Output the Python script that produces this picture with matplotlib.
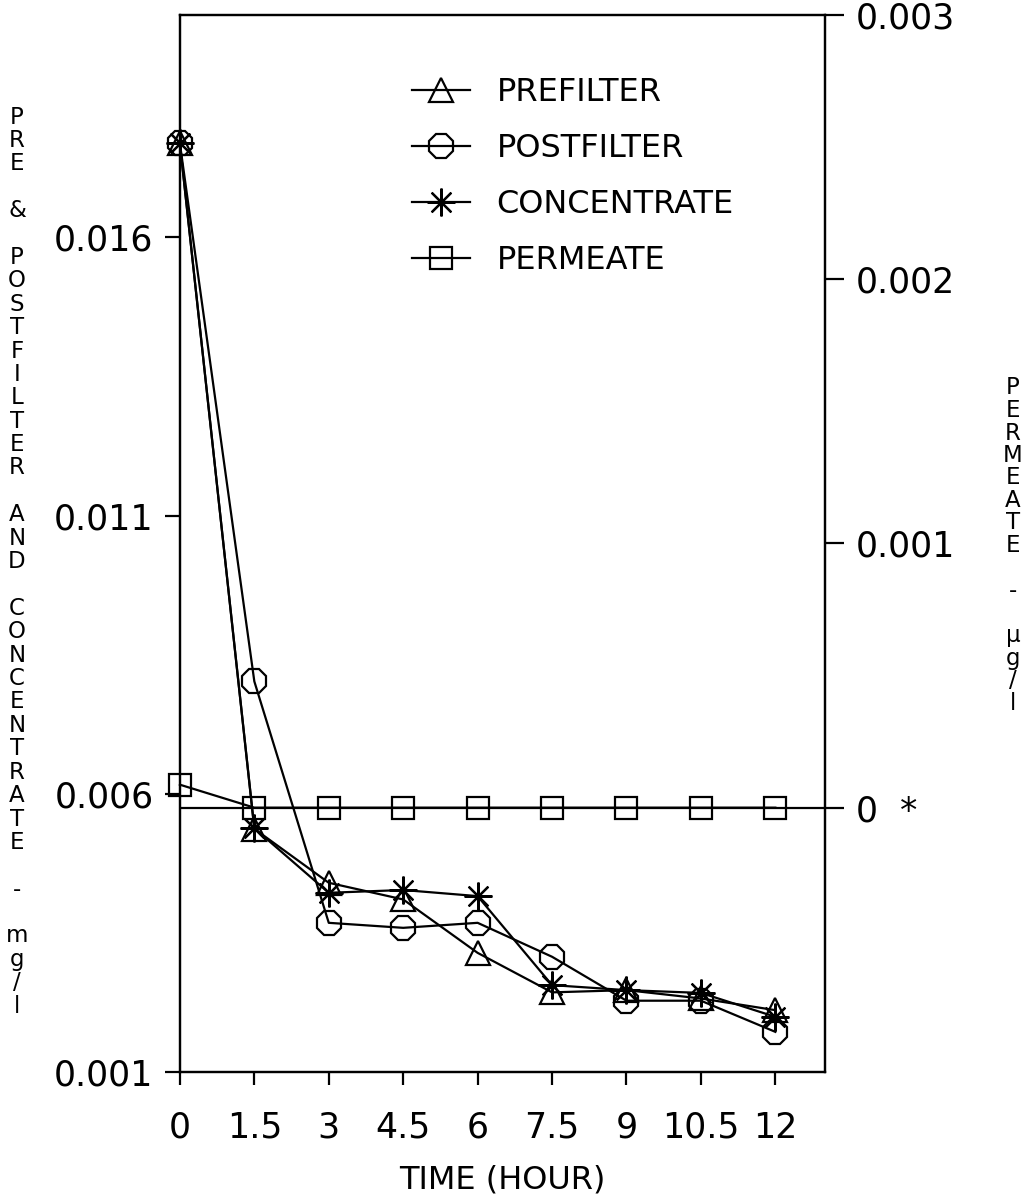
import matplotlib.pyplot as plt

# time in hours
hours = [0, 1.5, 3, 4.5, 6, 7.5, 9, 10.5, 12]
xtick_labels = ['0', '1.5', '3', '4.5', '6', '7.5', '9', '10.5', '12']

# mg/l (left axis)
prefilter = [0.01769, 0.00537, 0.00440, 0.00410, 0.00314, 0.00243, 0.00247, 0.00232, 0.00211]
postfilter = [0.01769, 0.00802, 0.00368, 0.00359, 0.00368, 0.00307, 0.00228, 0.00228, 0.00172]
concentrate = [0.01769, 0.00538, 0.00422, 0.00427, 0.00416, 0.00256, 0.00247, 0.00242, 0.00199]
# ug/l (right axis)
permeate = [0.000087, 0, 0, 0, 0, 0, 0, 0, 0]

left_ticks = [0.001, 0.006, 0.011, 0.016]
right_ticks = [0, 0.001, 0.002, 0.003]
right_labels = ['0  *', '0.001', '0.002', '0.003']

plt.rcParams['font.family'] = 'DejaVu Sans'
fs = 25

fig = plt.figure(figsize=(10.28, 11.99), dpi=100)
ax = fig.add_axes([0.175, 0.106, 0.6275, 0.8815])
ax2 = ax.twinx()

mk = dict(color='black', lw=1.6, markerfacecolor='none', markeredgecolor='black',
          markeredgewidth=1.6, clip_on=False)
l1, = ax.plot(hours, prefilter, marker='^', ms=17, label='PREFILTER', **mk)
l2, = ax.plot(hours, postfilter, marker='8', ms=18, label='POSTFILTER', **mk)
l3, = ax.plot(hours, concentrate, marker=(8, 2, 0), ms=20, label='CONCENTRATE', **mk)
l4, = ax2.plot(hours, permeate, marker='s', ms=16, label='PERMEATE', **mk)
ax2.axhline(0, color='black', lw=1.6)

ax.set_xlim(0, 13)
ax.set_ylim(0.001, 0.020)
ax2.set_ylim(-0.001, 0.003)

ax.set_xticks(hours)
ax.set_xticklabels(xtick_labels, fontsize=fs)
ax.set_yticks(left_ticks)
ax.set_yticklabels(['0.001', '0.006', '0.011', '0.016'], fontsize=fs)
ax2.set_yticks(right_ticks)
ax2.set_yticklabels(right_labels, fontsize=fs)

ax.tick_params(axis='y', direction='out', length=11, width=1.6, pad=8)
ax.tick_params(axis='x', direction='out', length=9, width=1.6, pad=19)
ax2.tick_params(axis='y', direction='out', length=14, width=1.6, pad=8)
for a in (ax, ax2):
    for s in a.spines.values():
        s.set_linewidth(1.6)

ax.set_xlabel('TIME (HOUR)', fontsize=23, labelpad=14)

# stacked vertical axis titles
left_title = 'PRE & POSTFILTER AND CONCENTRATE - mg/l'
for i, ch in enumerate(left_title):
    fig.text(17 / 1028, 1 - (117 + i * 23.4) / 1199, ch, fontsize=16.5,
             ha='center', va='center')
right_title = 'PERMEATE - \u00b5g/l'
for i, ch in enumerate(right_title):
    fig.text(1013 / 1028, 1 - (388 + i * 22.5) / 1199, ch, fontsize=16.5,
             ha='center', va='center')

fig.legend(handles=[l1, l2, l3, l4], loc='upper left',
           bbox_to_anchor=(412 / 1028, 1 - 77 / 1199), frameon=False,
           fontsize=23, handlelength=1.8, handletextpad=0.85, labelspacing=0.78,
           borderpad=0, borderaxespad=0)

plt.savefig('out.png', dpi=100)
